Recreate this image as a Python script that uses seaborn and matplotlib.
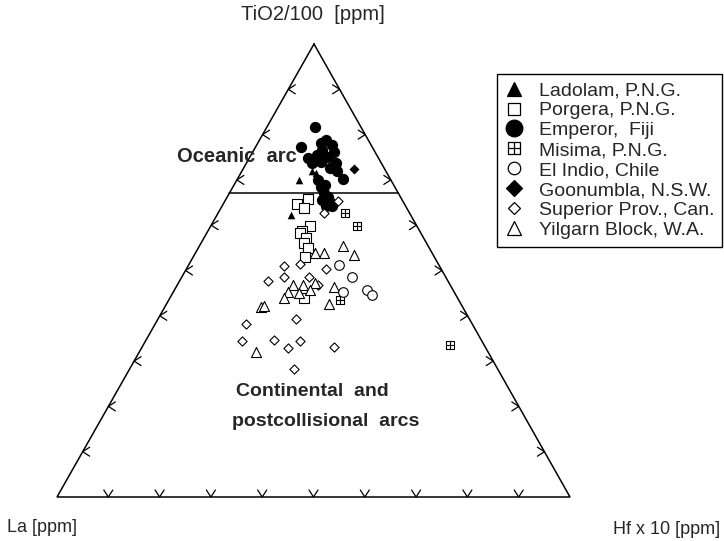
import numpy as np
import matplotlib
matplotlib.use("Agg")
import matplotlib.pyplot as plt
from matplotlib.path import Path
from matplotlib.lines import Line2D
import seaborn as sns

# --- ternary data: TiO2/100, Hf x 10 in percent (La is the remainder) ---
ladolam_ti = [72.0, 71.6, 70.0, 62.3]
ladolam_hf = [13.6, 14.6, 12.2, 14.5]

porgera_ti = [65.8, 64.6, 63.7, 59.8, 58.8, 58.3, 57.1, 56.0, 54.9, 53.0, 43.9]
porgera_hf = [15.9, 14.5, 16.2, 19.3, 18.3, 18.2, 19.9, 20.1, 21.5, 21.8, 26.1]

emperor_ti = [81.6, 77.2, 78.8, 77.7, 76.6, 76.2, 75.5, 75.1, 73.7, 74.0, 73.7, 72.6,
              72.0, 70.1, 68.4, 67.2, 66.2, 65.6, 65.2, 64.2, 64.2, 74.8, 78.1, 70.0, 68.9]
emperor_hf = [9.5, 8.8, 13.0, 14.6, 13.3, 15.8, 12.9, 15.3, 12.8, 14.3, 17.4, 16.9,
              18.6, 20.6, 17.1, 18.3, 19.6, 18.8, 20.6, 20.3, 21.4, 11.4, 12.3, 15.9, 17.8]

misima_ti = [62.6, 59.8, 43.5, 33.6]
misima_hf = [24.8, 28.5, 33.3, 59.8]

elindio_ti = [51.2, 48.5, 45.3, 45.7, 44.6]
elindio_hf = [29.4, 33.3, 33.1, 37.5, 39.0]

goonumbla_ti = [72.3]
goonumbla_hf = [21.6]

superior_ti = [65.4, 62.6, 51.0, 51.4, 47.7, 48.6, 48.6, 50.3, 46.8, 39.4, 38.1,
               34.5, 34.7, 34.5, 32.8, 33.2, 28.2]
superior_hf = [22.1, 20.7, 18.7, 21.7, 17.3, 19.9, 24.7, 27.2, 27.5, 26.9, 17.7,
               18.7, 25.0, 30.1, 28.5, 37.4, 32.1]

yilgarn_ti = [55.3, 53.4, 53.9, 53.9, 46.8, 46.8, 47.2, 45.7, 45.3, 45.0, 43.9,
              46.4, 42.6, 41.9, 42.2, 32.1]
yilgarn_hf = [28.1, 31.2, 25.0, 23.3, 22.5, 24.6, 26.7, 26.4, 22.4, 24.7, 22.3,
              30.8, 31.6, 18.8, 19.3, 22.8]

oceanic_boundary_ti = 67.0
tick_steps = [10, 20, 30, 40, 50, 60, 70, 80, 90]

site_names = ["Ladolam, P.N.G.", "Porgera, P.N.G.", "Emperor,  Fiji", "Misima, P.N.G.",
              "El Indio, Chile", "Goonumbla, N.S.W.", "Superior Prov., Can.",
              "Yilgarn Block, W.A."]

# --- triangle frame (drawing coordinates) ---
TOP = np.array([314.0, 44.0])
LEFT = np.array([57.0, 497.0])
RIGHT = np.array([570.0, 497.0])


def to_xy(ti, hf):
    ti = np.asarray(ti, float) / 100.0
    hf = np.asarray(hf, float) / 100.0
    la = 1.0 - ti - hf
    x = ti * TOP[0] + la * LEFT[0] + hf * RIGHT[0]
    y = ti * TOP[1] + la * LEFT[1] + hf * RIGHT[1]
    return x, y


# square with inner cross marker
boxcross = Path(
    [(-1, -1), (1, -1), (1, 1), (-1, 1), (-1, -1), (0, -1), (0, 1), (-1, 0), (1, 0)],
    [Path.MOVETO, Path.LINETO, Path.LINETO, Path.LINETO, Path.CLOSEPOLY,
     Path.MOVETO, Path.LINETO, Path.MOVETO, Path.LINETO],
)

sns.set_theme(style="white")
plt.rcParams["font.family"] = ["Liberation Sans", "DejaVu Sans"]

fig = plt.figure(figsize=(7.24, 5.41), dpi=100)
ax = fig.add_axes([0, 0, 1, 1])

lw = 1.1
# frame
tri = np.array([TOP, LEFT, RIGHT, TOP])
ax.plot(tri[:, 0], tri[:, 1], color="black", lw=lw, solid_joinstyle="miter", zorder=2)

# oceanic / continental boundary
bx, by = to_xy([oceanic_boundary_ti, oceanic_boundary_ti],
               [0, 100 - oceanic_boundary_ti])
ax.plot(bx, by, color="black", lw=lw, zorder=2)

# chevron ticks on each edge
arm, half = 7.0, 4.5
for t in tick_steps:
    # La - TiO2 edge
    x, y = to_xy(t, 0)
    ax.plot([x + arm, x, x + arm], [y - half, y, y + half], color="black", lw=0.9)
    # Hf - TiO2 edge
    x, y = to_xy(t, 100 - t)
    ax.plot([x - arm, x, x - arm], [y - half, y, y + half], color="black", lw=0.9)
    # La - Hf edge
    x, y = to_xy(0, t)
    ax.plot([x - half, x, x + half], [y - arm, y, y - arm], color="black", lw=0.9)

# data points
series = [
    (emperor_ti, emperor_hf, dict(marker="o", s=66, color="black", linewidth=0)),
    (ladolam_ti, ladolam_hf, dict(marker="^", s=30, color="black", linewidth=0)),
    (goonumbla_ti, goonumbla_hf, dict(marker="D", s=26, color="black", linewidth=0)),
    (porgera_ti, porgera_hf, dict(marker="s", s=44, facecolor="white", edgecolor="black", linewidth=0.8)),
    (misima_ti, misima_hf, dict(marker=boxcross, s=32, facecolor="white", edgecolor="black", linewidth=0.8)),
    (superior_ti, superior_hf, dict(marker="D", s=22, facecolor="white", edgecolor="black", linewidth=0.8)),
    (yilgarn_ti, yilgarn_hf, dict(marker="^", s=52, facecolor="white", edgecolor="black", linewidth=0.8)),
    (elindio_ti, elindio_hf, dict(marker="o", s=48, facecolor="white", edgecolor="black", linewidth=0.8)),
]
for ti, hf, kw in series:
    x, y = to_xy(ti, hf)
    sns.scatterplot(x=x, y=y, ax=ax, zorder=3, legend=False, **kw)

ax.set_xlim(0, 724)
ax.set_ylim(541, 0)
ax.axis("off")

# apex labels
ax.text(313, 15, "TiO2/100  [ppm]", ha="center", va="center", fontsize=14.5)
ax.text(7, 528, "La [ppm]", ha="left", va="center", fontsize=13)
ax.text(720, 530, "Hf x 10 [ppm]", ha="right", va="center", fontsize=13)

# field labels
ax.text(297, 157, "Oceanic  arc", ha="right", va="center", fontsize=14.5, fontweight="bold")
ax.text(236, 392, "Continental  and", ha="left", va="center", fontsize=14, fontweight="bold")
ax.text(232, 421, "postcollisional  arcs", ha="left", va="center", fontsize=14, fontweight="bold")

# legend
mk = dict(linestyle="none", markeredgecolor="black", markeredgewidth=0.9)
handles = [
    Line2D([], [], marker="^", markersize=10, markerfacecolor="black", **mk),
    Line2D([], [], marker="s", markersize=9, markerfacecolor="white", **mk),
    Line2D([], [], marker="o", markersize=12, markerfacecolor="black", **mk),
    Line2D([], [], marker=boxcross, markersize=9, markerfacecolor="white", **mk),
    Line2D([], [], marker="o", markersize=9, markerfacecolor="white", **mk),
    Line2D([], [], marker="D", markersize=8, markerfacecolor="black", **mk),
    Line2D([], [], marker="D", markersize=6.5, markerfacecolor="white", **mk),
    Line2D([], [], marker="^", markersize=10, markerfacecolor="white", **mk),
]
leg = fig.legend(handles, site_names, loc="upper right",
                 bbox_to_anchor=(722 / 724, 1 - 74 / 541), frameon=True,
                 fancybox=False, framealpha=1, edgecolor="black", fontsize=14,
                 handlelength=1.0, handletextpad=0.75, labelspacing=0.12,
                 borderpad=0.4, borderaxespad=0.0)
leg.get_frame().set_linewidth(1.0)

fig.savefig("out.png", dpi=100, facecolor="white")
